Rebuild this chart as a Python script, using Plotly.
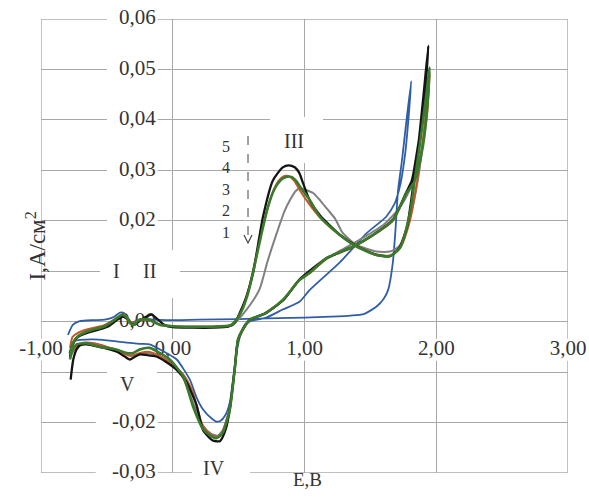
import plotly.graph_objects as go

# ---------------- data (E, V ; I, A/cm2) ----------------
curve1_blue = [(-0.795,-0.0026),(-0.757,-0.0006),(-0.706,0.0001),(-0.60,0.0003),(-0.516,0.0004),
    (-0.45,0.0009),(-0.40,0.0018),(-0.37,0.0017),(-0.34,0.0006),(-0.31,-0.0002),(-0.27,0.0003),
    (-0.22,0.0006),(-0.15,0.0004),(-0.05,0.0003),(0.20,0.0004),(0.50,0.0005),(0.80,0.0007),
    (1.00,0.0008),(1.20,0.0010),(1.35,0.0012),(1.45,0.0015),(1.547,0.0030),(1.60,0.0045),
    (1.635,0.0063),(1.67,0.0116),(1.69,0.0180),(1.71,0.0260),(1.74,0.0320),(1.77,0.0390),
    (1.81,0.0477),(1.79,0.0405),(1.765,0.0335),(1.73,0.0275),(1.70,0.0245),(1.686,0.0235),
    (1.62,0.0208),(1.47,0.0175),(1.27,0.0118),(1.04,0.0063),(0.964,0.0040),(0.835,0.0024),
    (0.71,0.0008),(0.60,0.0002),(0.55,-0.0005),(0.51,-0.0030),(0.485,-0.0061),(0.455,-0.0120),
    (0.433,-0.0160),(0.40,-0.0185),(0.36,-0.0197),(0.33,-0.0198),(0.30,-0.0193),(0.23,-0.0174),
    (0.18,-0.0150),(0.13,-0.0115),(0.03,-0.0075),(-0.05,-0.0062),(-0.175,-0.0045),(-0.25,-0.0044),
    (-0.40,-0.0040),(-0.50,-0.0037),(-0.60,-0.0035),(-0.70,-0.0036),(-0.74,-0.0038),
    (-0.77,-0.0050),(-0.785,-0.0062)]

curve2_gray = [(-0.78,-0.0068),(-0.757,-0.0045),(-0.72,-0.0031),(-0.645,-0.0021),(-0.52,-0.0011),
    (-0.45,0.0001),(-0.41,0.0009),(-0.37,0.0013),(-0.34,0.0007),(-0.31,-0.0003),(-0.28,-0.0004),
    (-0.24,0.0003),(-0.19,0.0004),(-0.12,-0.0004),(0.0,-0.0009),(0.15,-0.0010),(0.30,-0.0010),
    (0.45,-0.0008),(0.50,0.0005),(0.56,0.0024),(0.61,0.0042),(0.66,0.0065),(0.72,0.0120),
    (0.79,0.0176),(0.85,0.0220),(0.89,0.0241),(0.93,0.0258),(0.965,0.0265),(1.0,0.0262),
    (1.065,0.0255),(1.12,0.0240),(1.17,0.0224),(1.23,0.0205),(1.29,0.0176),(1.395,0.0152),
    (1.547,0.0139),(1.648,0.0139),(1.72,0.0150),(1.80,0.0205),(1.86,0.0280),(1.91,0.0380),
    (1.95,0.0495),(1.93,0.0420),(1.89,0.0345),(1.85,0.0295),(1.80,0.0262),(1.72,0.0225),
    (1.60,0.0192),(1.45,0.0167),(1.30,0.0145),(1.15,0.0122),(0.96,0.0082),(0.84,0.0043),
    (0.70,0.0016),(0.59,0.0004),(0.53,-0.0015),(0.495,-0.0035),(0.47,-0.0093),(0.433,-0.0170),
    (0.38,-0.0215),(0.34,-0.0226),(0.29,-0.0222),(0.23,-0.0206),(0.15,-0.0158),(0.08,-0.0112),
    (0.0,-0.0085),(-0.10,-0.0068),(-0.20,-0.0062),(-0.27,-0.0066),(-0.33,-0.0066),(-0.40,-0.0058),
    (-0.50,-0.0050),(-0.62,-0.0043),(-0.70,-0.0044),(-0.74,-0.0052),(-0.78,-0.0070)]

curve3_orange = [(-0.78,-0.0052),(-0.76,-0.0030),(-0.72,-0.0022),(-0.645,-0.0015),(-0.52,-0.0007),
    (-0.45,0.0003),(-0.40,0.0012),(-0.37,0.0015),(-0.34,0.0006),(-0.31,-0.0004),(-0.27,0.0001),
    (-0.22,0.0004),(-0.15,0.0000),(-0.10,-0.0006),(0.0,-0.0009),(0.15,-0.0010),(0.30,-0.0010),
    (0.44,-0.0007),(0.48,0.0002),(0.52,0.0022),(0.56,0.0050),(0.60,0.0090),(0.65,0.0150),
    (0.70,0.0205),(0.75,0.0250),(0.80,0.0278),(0.84,0.0288),(0.875,0.0289),(0.92,0.0280),
    (0.97,0.0258),(1.05,0.0228),(1.12,0.0206),(1.27,0.0171),(1.40,0.0149),(1.55,0.0133),
    (1.65,0.0131),(1.73,0.0148),(1.80,0.0200),(1.85,0.0270),(1.89,0.0340),(1.93,0.0430),
    (1.95,0.0490),(1.93,0.0410),(1.89,0.0340),(1.84,0.0285),(1.77,0.0253),(1.67,0.0200),
    (1.52,0.0171),(1.37,0.0148),(1.17,0.0125),(1.04,0.0096),(0.96,0.0082),(0.84,0.0043),
    (0.70,0.0017),(0.585,0.0003),(0.53,-0.0018),(0.495,-0.0038),(0.47,-0.0095),(0.433,-0.0172),
    (0.38,-0.0218),(0.35,-0.0229),(0.30,-0.0226),(0.23,-0.0208),(0.15,-0.0138),(0.08,-0.0105),
    (0.0,-0.0085),(-0.10,-0.0068),(-0.175,-0.0060),(-0.25,-0.0062),(-0.32,-0.0068),(-0.40,-0.0060),
    (-0.48,-0.0052),(-0.60,-0.0043),(-0.68,-0.0042),(-0.73,-0.0048),(-0.78,-0.0068)]

curve4_black = [(-0.78,-0.0070),(-0.765,-0.0050),(-0.74,-0.0035),(-0.70,-0.0027),(-0.645,-0.0022),
    (-0.55,-0.0015),(-0.48,-0.0008),(-0.42,0.0004),(-0.38,0.0010),(-0.35,0.0006),(-0.32,-0.0003),
    (-0.29,-0.0006),(-0.25,0.0002),(-0.20,0.0010),(-0.16,0.0014),(-0.12,0.0006),(-0.06,-0.0007),
    (0.0,-0.0011),(0.15,-0.0012),(0.30,-0.0012),(0.42,-0.0010),(0.47,-0.0002),(0.51,0.0018),
    (0.56,0.0050),(0.61,0.0097),(0.685,0.0208),(0.76,0.0280),(0.835,0.0306),(0.88,0.0310),
    (0.926,0.0306),(0.96,0.0295),(0.99,0.0274),(1.04,0.0240),(1.12,0.0210),(1.27,0.0172),
    (1.40,0.0149),(1.55,0.0132),(1.65,0.0130),(1.72,0.0146),(1.78,0.0190),(1.82,0.0260),
    (1.86,0.0340),(1.90,0.0440),(1.94,0.0547),(1.92,0.0470),(1.89,0.0400),(1.85,0.0330),
    (1.815,0.0280),(1.77,0.0255),(1.67,0.0202),(1.52,0.0172),(1.37,0.0149),(1.17,0.0126),
    (0.96,0.0083),(0.84,0.0043),(0.70,0.0016),(0.585,0.0004),(0.53,-0.0016),(0.495,-0.0036),
    (0.47,-0.0095),(0.433,-0.0174),(0.40,-0.0215),(0.357,-0.0237),(0.30,-0.0235),(0.23,-0.0215),
    (0.18,-0.0165),(0.10,-0.0118),(0.028,-0.0095),(-0.05,-0.0080),(-0.124,-0.0069),(-0.20,-0.0066),
    (-0.25,-0.0065),(-0.29,-0.0070),(-0.326,-0.0075),(-0.37,-0.0068),(-0.42,-0.0060),(-0.48,-0.0055),
    (-0.56,-0.0050),(-0.655,-0.0045),(-0.70,-0.0046),(-0.73,-0.0055),(-0.755,-0.0075),(-0.775,-0.0115)]

curve5_green = [(-0.78,-0.0065),(-0.757,-0.0042),(-0.72,-0.0029),(-0.645,-0.0019),(-0.516,-0.0009),
    (-0.45,0.0002),(-0.42,0.0008),(-0.38,0.0014),(-0.35,0.0008),(-0.32,-0.0004),(-0.29,-0.0006),
    (-0.265,0.0002),(-0.22,0.0005),(-0.17,0.0003),(-0.10,-0.0006),(0.0,-0.0009),(0.15,-0.0010),
    (0.30,-0.0010),(0.44,-0.0007),(0.49,0.0006),(0.53,0.0025),(0.57,0.0055),(0.62,0.0110),
    (0.67,0.0170),(0.72,0.0225),(0.77,0.0262),(0.82,0.0281),(0.86,0.0287),(0.90,0.0287),
    (0.94,0.0278),(0.98,0.0262),(1.03,0.0245),(1.116,0.0208),(1.268,0.0172),(1.395,0.0149),
    (1.547,0.0132),(1.648,0.0130),(1.724,0.0146),(1.80,0.0215),(1.837,0.0281),(1.88,0.0360),
    (1.92,0.0440),(1.95,0.0504),(1.93,0.0420),(1.90,0.0350),(1.86,0.0300),(1.83,0.0275),
    (1.774,0.0255),(1.673,0.0202),(1.521,0.0172),(1.369,0.0149),(1.167,0.0126),(1.04,0.0097),
    (0.964,0.0083),(0.835,0.0043),(0.70,0.0016),(0.585,0.0004),(0.53,-0.0016),(0.495,-0.0036),
    (0.47,-0.0095),(0.433,-0.0174),(0.38,-0.0220),(0.33,-0.0231),(0.28,-0.0225),(0.23,-0.0213),
    (0.154,-0.0168),(0.08,-0.0109),(-0.023,-0.0075),(-0.10,-0.0062),(-0.175,-0.0052),
    (-0.25,-0.0055),(-0.30,-0.0062),(-0.35,-0.0062),(-0.43,-0.0055),(-0.55,-0.0050),
    (-0.65,-0.0043),(-0.73,-0.0045),(-0.76,-0.0055),(-0.78,-0.0075)]

series = [("1", curve1_blue, "#2f5ea6", 1.8),
          ("2", curve2_gray, "#808080", 2.0),
          ("3", curve3_orange, "#c4572a", 2.0),
          ("4", curve4_black, "#141414", 2.3),
          ("5", curve5_green, "#3a7a2c", 2.6)]

x_tick_vals = [-1, 0, 1, 2, 3]
x_tick_text = ["-1,00", "0,00", "1,00", "2,00", "3,00"]
y_tick_vals = [0.06, 0.05, 0.04, 0.03, 0.02, 0.0, -0.02, -0.03]
y_tick_text = ["0,06", "0,05", "0,04", "0,03", "0,02", "0,00", "-0,02", "-0,03"]
cycle_labels = ["5", "4", "3", "2", "1"]
peak_labels = ["I", "II", "III", "IV", "V"]

# ---------------- geometry helpers ----------------
W, H = 589, 504
ML, MR, MT, MB = 41, 21, 19, 31
XR = [-1, 3]
YR = [-0.03, 0.06]
pw, ph = W - ML - MR, H - MT - MB
sx = pw / (XR[1] - XR[0])      # px per volt
sy = ph / (YR[1] - YR[0])      # px per A/cm2

def px2x(px):
    return XR[0] + (px - ML) / sx

def py2y(py):
    return YR[1] - (py - MT) / sy

FONT = "Liberation Serif, Times New Roman, serif"
TXT = "#333333"
GRID = "#a8a8a8"

fig = go.Figure()
shapes = []

# frame lines (grid lines at the range edges)
for xv in XR:
    shapes.append(dict(type="line", xref="x", yref="y", layer="between", x0=xv, x1=xv,
                       y0=YR[0], y1=YR[1], line=dict(color=GRID, width=1.4)))
for yv in YR:
    shapes.append(dict(type="line", xref="x", yref="y", layer="between", x0=XR[0], x1=XR[1],
                       y0=yv, y1=yv, line=dict(color=GRID, width=1.4)))

def white_box(px0, px1, py0, py1):
    shapes.append(dict(type="rect", xref="x", yref="y", layer="between",
                       x0=px2x(px0), x1=px2x(px1), y0=py2y(py1), y1=py2y(py0),
                       fillcolor="white", line=dict(width=0)))

# tick labels as text traces (drawn under curves)
xlab_dy = 28
y0_px = MT + (YR[1] - 0) * sy
fig.add_trace(go.Scatter(
    x=x_tick_vals, y=[py2y(y0_px + xlab_dy)] * len(x_tick_vals),
    mode="text", text=x_tick_text, textposition="middle center",
    textfont=dict(family=FONT, size=21, color=TXT), cliponaxis=False,
    hoverinfo="skip", showlegend=False))
for v, t in zip(x_tick_vals, x_tick_text):
    cx = ML + (v - XR[0]) * sx
    hw = len(t) * 5.4 + 3
    white_box(cx - hw, cx + hw, y0_px + xlab_dy - 11, y0_px + xlab_dy + 11)

y_lab_right = ML + (0 - XR[0]) * sx - 17
fig.add_trace(go.Scatter(
    x=[px2x(y_lab_right)] * len(y_tick_vals), y=y_tick_vals,
    mode="text", text=y_tick_text, textposition="middle left",
    textfont=dict(family=FONT, size=21, color=TXT), cliponaxis=False,
    hoverinfo="skip", showlegend=False))
for v, t in zip(y_tick_vals, y_tick_text):
    if v == 0.0:
        continue
    cy = MT + (YR[1] - v) * sy
    w = len(t) * 11.2
    white_box(y_lab_right - w - 4, y_lab_right + 2, cy - 11, cy + 11)

# boxes behind peak labels
white_box(100, 180, 250, 298)   # I  II
white_box(270, 323, 117, 163)   # III
white_box(192, 250, 455, 490)   # IV
white_box(107, 157, 364, 400)   # V

# curves
for name, pts, col, lw in series:
    fig.add_trace(go.Scatter(
        x=[p[0] for p in pts], y=[p[1] for p in pts], mode="lines", name=name,
        line=dict(color=col, width=lw, shape="spline", smoothing=0.6),
        showlegend=False, hoverinfo="skip"))

annotations = []
def label(text, px, py, size=20):
    annotations.append(dict(x=px2x(px), y=py2y(py), xref="x", yref="y", text=text,
                            showarrow=False, font=dict(family=FONT, size=size, color=TXT)))

label(peak_labels[0], 116, 271)
label(peak_labels[1], 149, 271)
label(peak_labels[2], 294, 141)
label(peak_labels[3], 214, 468)
label(peak_labels[4], 127, 384)

for i, t in enumerate(cycle_labels):
    label(t, 226, 146 + i * 21.5, size=16)

# dashed arrow (cycle order)
shapes.append(dict(type="line", xref="x", yref="y", x0=px2x(248), x1=px2x(248),
                   y0=py2y(136), y1=py2y(242), line=dict(color="#444", width=1, dash="dash")))
ax_, ay_ = px2x(248), py2y(243)
dxa, dya = 4 / sx, 8 / sy
shapes.append(dict(type="path", xref="x", yref="y",
                   path=f"M {ax_ - dxa},{ay_ + dya} L {ax_},{ay_} L {ax_ + dxa},{ay_ + dya}",
                   line=dict(color="#444", width=1.2)))

annotations.append(dict(x=(19 - ML) / pw, y=(H - MB - 246) / ph, xref="paper", yref="paper",
                        text="I,A/см<sup>2</sup>", textangle=-90, showarrow=False,
                        font=dict(family=FONT, size=23, color=TXT)))
annotations.append(dict(x=(307 - ML) / pw, y=(H - MB - 492) / ph, xref="paper", yref="paper",
                        text="E,B", showarrow=False,
                        font=dict(family=FONT, size=19, color=TXT)))

fig.update_layout(
    width=W, height=H, margin=dict(l=ML, r=MR, t=MT, b=MB),
    paper_bgcolor="white", plot_bgcolor="white",
    shapes=shapes, annotations=annotations, showlegend=False,
    xaxis=dict(range=XR, tick0=-1, dtick=1, showgrid=True, gridcolor=GRID, gridwidth=1.2,
               zeroline=False, showticklabels=False, ticks="", showline=False, fixedrange=True),
    yaxis=dict(range=YR, tick0=-0.03, dtick=0.01, showgrid=True, gridcolor=GRID,
               gridwidth=1.2, zeroline=False, showticklabels=False, ticks="", showline=False,
               fixedrange=True),
)

fig.write_html("out.html", config={"displayModeBar": False},
               post_script="document.body.style.margin='0px';document.body.style.overflow='hidden';")
